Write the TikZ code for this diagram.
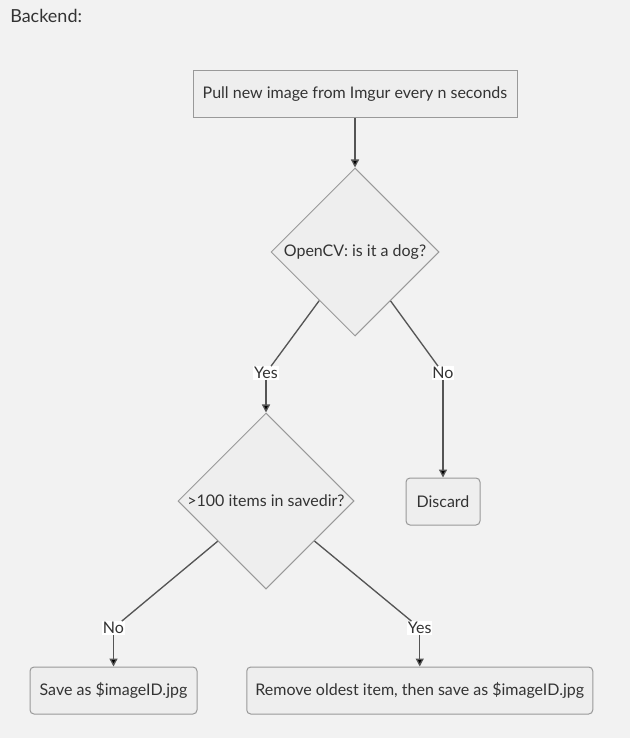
\documentclass[tikz,border=0pt]{standalone}
\usepackage{fontspec}
\setmainfont{Lato}
\usetikzlibrary{shapes.geometric,arrows.meta}
\definecolor{bg}{HTML}{F2F2F2}
\definecolor{nodefill}{HTML}{EEEEEE}
\definecolor{nodeline}{HTML}{999999}
\definecolor{txt}{HTML}{333333}
\definecolor{edgecol}{HTML}{555555}
\tikzset{
  px/.style={x=0.75pt,y=-0.75pt},
  box/.style={draw=nodeline,fill=nodefill,line width=0.75pt,inner sep=0pt,text=txt,font=\fontsize{12pt}{14pt}\selectfont},
  rbox/.style={box,rounded corners=3pt},
  decision/.style={box,diamond,minimum width=126pt,minimum height=126pt},
  lbl/.style={fill=white,inner sep=0.6pt,text=txt,font=\fontsize{12pt}{14pt}\selectfont},
  link/.style={draw=edgecol,line width=1pt},
  arrowlink/.style={link,-{Triangle[length=6pt,width=6pt,fill=black]}},
}
\begin{document}
\begin{tikzpicture}[px]
\fill[bg] (0,0) rectangle (630,738);
\useasboundingbox (0,0) rectangle (630,738);
\node[anchor=west,inner sep=0pt,text=txt,font=\fontsize{13.5pt}{16pt}\selectfont] (title) at (10,16) {Backend:};
\node[box,minimum width=243pt,minimum height=35.25pt] (pull) at (355,94.5) {Pull new image from Imgur every n seconds};
\node[decision] (dog) at (355,252) {OpenCV: is it a dog?};
\node[decision,minimum width=132pt,minimum height=132pt] (count) at (266,501) {>100 items in savedir?};
\node[rbox,minimum width=55.5pt,minimum height=35.25pt] (discard) at (443,501.5) {Discard};
\node[rbox,minimum width=125.25pt,minimum height=35.25pt] (save) at (113.5,690.5) {Save as \$imageID.jpg};
\node[rbox,minimum width=259.5pt,minimum height=35.25pt] (remove) at (419.75,690.5) {Remove oldest item, then save as \$imageID.jpg};
\node[lbl] (yes1) at (266,373) {Yes};
\node[lbl] (no1) at (443,373) {No};
\node[lbl] (no2) at (113.5,628) {No};
\node[lbl] (yes2) at (419.75,628) {Yes};
\draw[arrowlink] (pull) -- (dog);
\draw[link] (dog) -- (yes1);
\draw[arrowlink] (yes1) -- (count);
\draw[link] (dog) -- (no1);
\draw[arrowlink] (no1) -- (discard);
\draw[link] (count) -- (no2);
\draw[arrowlink] (no2) -- (save);
\draw[link] (count) -- (yes2);
\draw[arrowlink] (yes2) -- (remove);
\end{tikzpicture}
\end{document}
